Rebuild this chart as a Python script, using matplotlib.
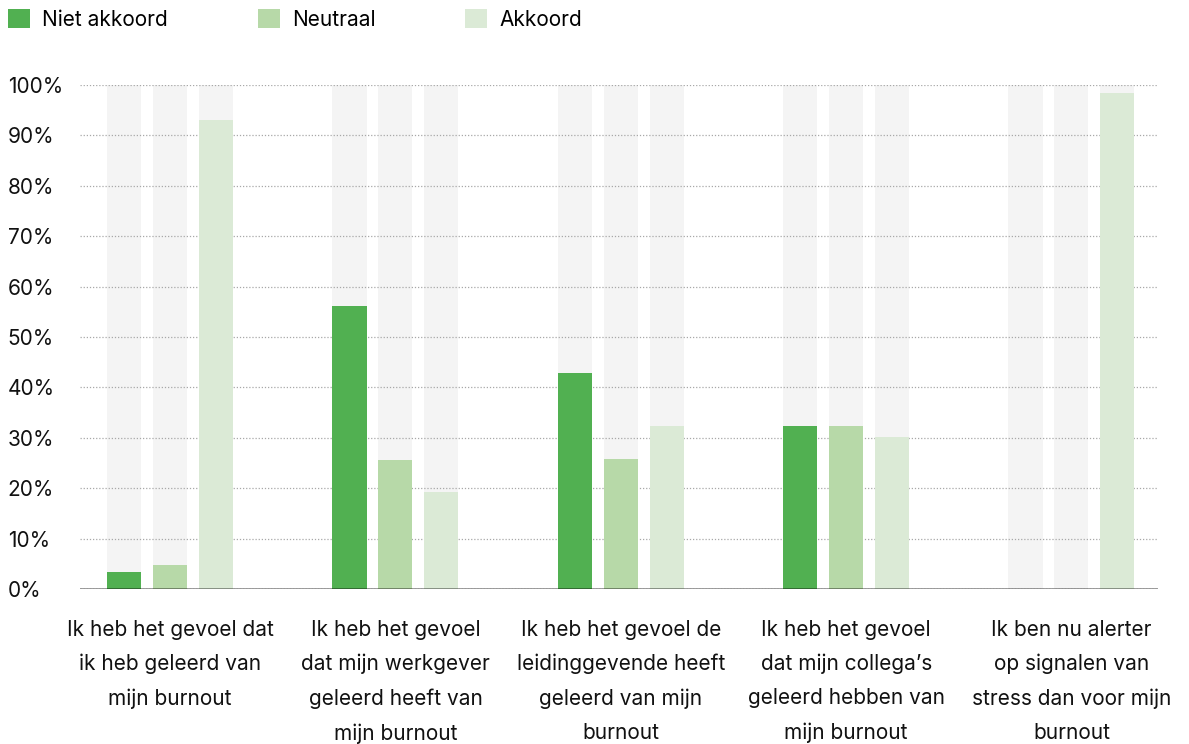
import numpy as np
import matplotlib
matplotlib.use("Agg")
import matplotlib.pyplot as plt

plt.rcParams['font.family'] = ['Inter', 'DejaVu Sans']

categories = [
    "Ik heb het gevoel dat\nik heb geleerd van\nmijn burnout",
    "Ik heb het gevoel\ndat mijn werkgever\ngeleerd heeft van\nmijn burnout",
    "Ik heb het gevoel de\nleidinggevende heeft\ngeleerd van mijn\nburnout",
    "Ik heb het gevoel\ndat mijn collega’s\ngeleerd hebben van\nmijn burnout",
    "Ik ben nu alerter\nop signalen van\nstress dan voor mijn\nburnout",
]
series_names = ["Niet akkoord", "Neutraal", "Akkoord"]
niet_akkoord = [3.4, 56.2, 42.9, 32.3, 0.0]
neutraal = [4.8, 25.6, 25.8, 32.3, 0.0]
akkoord = [93.1, 19.2, 32.3, 30.2, 98.4]
colors = ["#51b051", "#b7d9a8", "#dbead6"]
yticks = [0, 10, 20, 30, 40, 50, 60, 70, 80, 90, 100]

fig = plt.figure(figsize=(11.89, 7.44), dpi=100)
ax = fig.add_axes([80 / 1189, 1 - 589 / 744, 1078 / 1189, 504 / 744])

x = np.arange(len(categories))
width = 0.151
step = 0.204

handles = []
for k, (vals, col, name) in enumerate(zip([niet_akkoord, neutraal, akkoord], colors, series_names)):
    pos = x + (k - 1) * step
    # grey track behind each bar up to 100%
    ax.bar(pos, [100] * len(vals), width, color="#f4f4f4", zorder=0.5)
    h = ax.bar(pos, vals, width, color=col, label=name, zorder=2)
    handles.append(h)

ax.set_xlim(-0.40, 4.384)
ax.set_ylim(0, 100)
ax.set_yticks(yticks)
ax.set_yticklabels([f"{t}%" for t in yticks], ha="left")
ax.set_xticks(x)
ax.set_xticklabels(categories, linespacing=1.86)
ax.tick_params(axis="y", length=0, pad=52, labelsize=15, labelcolor="#111111")
ax.tick_params(axis="x", length=0, pad=22, labelsize=15, labelcolor="#111111")
for lbl in ax.get_xticklabels():
    lbl.set_verticalalignment("top")

ax.set_axisbelow("line")
ax.grid(axis="y", linestyle=(0, (1, 1.5)), color="#a8a8a8", linewidth=0.9)
ax.grid(axis="x", visible=False)
for s in ax.spines.values():
    s.set_visible(False)
ax.axhline(0, color="black", alpha=0.5, linewidth=1.8, zorder=5)

fig.legend(handles=handles, labels=series_names, loc="upper left",
           bbox_to_anchor=(8 / 1189, 1 - 9 / 744), ncol=3, frameon=False,
           fontsize=15, handlelength=1.05, handleheight=1.05,
           handletextpad=0.6, columnspacing=4.3, borderpad=0, borderaxespad=0)

fig.savefig("out.png", dpi=100)
